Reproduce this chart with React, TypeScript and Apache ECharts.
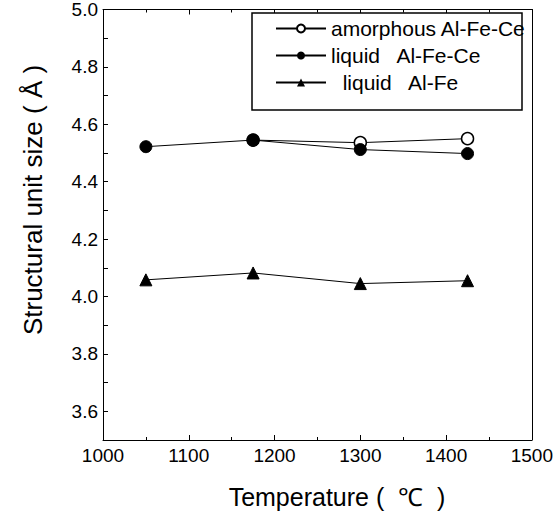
import React, { useEffect, useRef } from "react";
import * as echarts from "echarts";

const temperatures = [1050, 1175, 1300, 1425];
const amorphousAlFeCe = [null, 4.545, 4.536, 4.55];
const liquidAlFeCe = [4.522, 4.545, 4.512, 4.498];
const liquidAlFe = [4.058, 4.082, 4.045, 4.055];
const seriesNames = ["amorphous Al-Fe-Ce", "liquid   Al-Fe-Ce", "  liquid   Al-Fe"];

const FONT = "'Liberation Sans', Arial, sans-serif";

export default function App() {
  const ref = useRef<HTMLDivElement>(null);
  useEffect(() => {
    if (!ref.current) return;
    const chart = echarts.init(ref.current, null, { renderer: "svg" });
    const pair = (vals: (number | null)[]) =>
      temperatures.map((t, i) => [t, vals[i]]).filter((p) => p[1] !== null);
    const lineBase = {
      type: "line",
      lineStyle: { color: "#000", width: 1 },
      itemStyle: { color: "#000", borderColor: "#000" },
      symbolSize: 12,
      z: 3,
    };
    chart.setOption({
      animation: false,
      backgroundColor: "#fff",
      textStyle: { fontFamily: FONT, color: "#000" },
      grid: { left: 103, top: 8, right: 24, bottom: 77, containLabel: false },
      legend: {
        left: 275,
        top: 18,
        orient: "vertical",
        itemWidth: 50,
        itemHeight: 10,
        itemGap: 6,
        padding: 0,
        borderWidth: 0,
        textStyle: { fontSize: 21, lineHeight: 21, color: "#000", fontFamily: FONT },
        data: seriesNames,
        z: 10,
      },
      xAxis: [
        {
          type: "value",
          min: 1000,
          max: 1500,
          interval: 100,
          position: "bottom",
          axisLine: { lineStyle: { color: "#000", width: 1 } },
          axisTick: { inside: true, length: 5, lineStyle: { color: "#000" } },
          minorTick: { show: true, splitNumber: 2, length: 3, lineStyle: { color: "#000" } },
          splitLine: { show: false },
          axisLabel: {
            fontSize: 19,
            color: "#000",
            margin: 6,
            fontFamily: FONT,
            formatter: (v: number) => String(v),
          },
        },
        {
          type: "value",
          min: 1000,
          max: 1500,
          interval: 100,
          position: "top",
          axisLine: { lineStyle: { color: "#000", width: 1 } },
          axisTick: { inside: true, length: 5, lineStyle: { color: "#000" } },
          minorTick: { show: true, splitNumber: 2, length: 3, lineStyle: { color: "#000" } },
          splitLine: { show: false },
          axisLabel: { show: false },
        },
      ],
      yAxis: [
        {
          type: "value",
          min: 3.5,
          max: 5.0,
          interval: 0.1,
          position: "left",
          axisLine: { show: true, lineStyle: { color: "#000", width: 1 } },
          axisTick: { show: true, inside: true, length: 5, lineStyle: { color: "#000" } },
          splitLine: { show: false },
          axisLabel: {
            fontSize: 19,
            color: "#000",
            margin: 5,
            fontFamily: FONT,
            formatter: (v: number) => {
              const k = Math.round(v * 10);
              return k % 2 === 0 ? (k / 10).toFixed(1) : "";
            },
          },
        },
        {
          type: "value",
          min: 3.5,
          max: 5.0,
          interval: 0.1,
          position: "right",
          axisLine: { show: true, lineStyle: { color: "#000", width: 1 } },
          axisTick: { show: false },
          splitLine: { show: false },
          axisLabel: { show: false },
        },
      ],
      series: [
        {
          ...lineBase,
          name: seriesNames[0],
          symbol: "circle",
          itemStyle: { color: "#fff", borderColor: "#000", borderWidth: 1.5 },
          data: pair(amorphousAlFeCe),
        },
        {
          ...lineBase,
          name: seriesNames[1],
          symbol: "circle",
          data: pair(liquidAlFeCe),
        },
        {
          ...lineBase,
          name: seriesNames[2],
          symbol: "triangle",
          data: pair(liquidAlFe),
        },
      ],
      graphic: [
        {
          type: "rect",
          shape: { x: 252, y: 13, width: 270, height: 97 },
          style: { fill: "#fff", stroke: "#000", lineWidth: 1.5 },
          z: 5,
        },
        {
          type: "text",
          x: 33,
          y: 200,
          rotation: Math.PI / 2,
          style: {
            text: "Structural unit size ( Å )",
            fontSize: 26,
            fontFamily: FONT,
            fill: "#000",
            align: "center",
            verticalAlign: "middle",
          },
        },
        {
          type: "text",
          x: 337,
          y: 497,
          style: {
            text: "Temperature (  ℃  )",
            fontSize: 25,
            fontFamily: FONT,
            fill: "#000",
            align: "center",
            verticalAlign: "middle",
          },
        },
      ],
    });
    return () => chart.dispose();
  }, []);
  return <div ref={ref} style={{ width: 556, height: 517, position: "absolute", left: 0, top: 0 }} />;
}
